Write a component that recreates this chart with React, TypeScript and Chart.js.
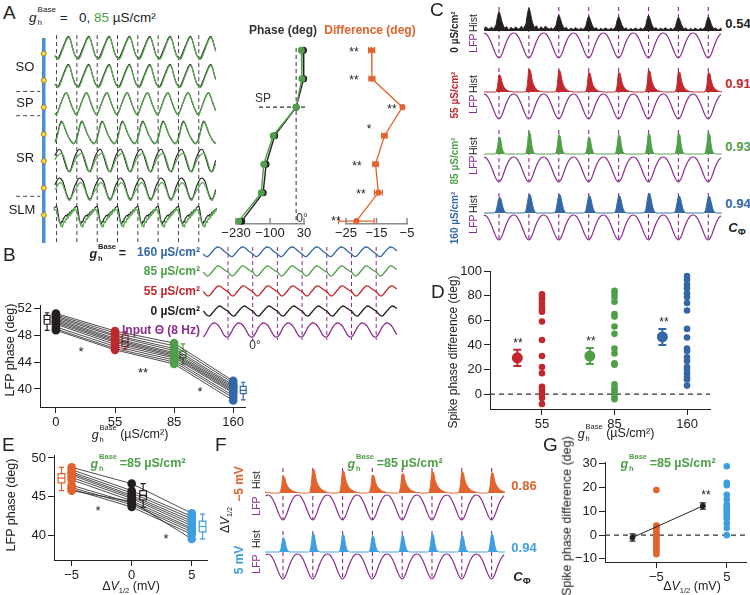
import React, { useEffect, useRef } from 'react';
import { Chart, registerables } from 'chart.js';

Chart.register(...registerables);

const FONT = "'Liberation Sans', Arial, Helvetica, sans-serif";
const C_BLACK = '#231f20';
const C_GREEN = '#4f9e48';
const C_GREEN_L = '#5aad52';
const C_RED = '#c1272d';
const C_BLUE = '#3467a6';
const C_ORANGE = '#e2632d';
const C_LBLUE = '#3d9ee0';
const C_PURPLE = '#8a2c8c';
const C_AXGRAY = '#8a8a8a';

// ---------------- Panel A data ----------------
const aLayerIdx = [0, 1, 2, 3, 4, 5, 6];
const aPhaseBlack = [28, 29, 0, -82, -115, -126, -208];
const aPhaseGreen = [20, 22, 0, -88, -124, -133, -220];
const aDiffMean = [-16.6, -16.5, -6.5, -12.4, -15.3, -14.4, -21.6];
const aDiffErr = [1.0, 1.0, 0.5, 0.9, 0.9, 1.3, 5.8];
const aDiffStars = ['**', '**', '**', '*', '**', '**', '**'];
const aPhaseTicks = [-230, -100, 30];
const aDiffTicks = [-25, -15, -5];
const aLayerLabels = ['SO', 'SP', 'SR', 'SLM'];
const aTraceBlack = [
  [0.08, 0.06, 0.2, 0.38, 0.56, 0.74, 0.9, 0.99, 0.88, 0.62, 0.36, 0.16],
  [0.08, 0.05, 0.2, 0.38, 0.57, 0.75, 0.91, 1.0, 0.87, 0.6, 0.35, 0.15],
  [0.05, 0.22, 0.42, 0.62, 0.8, 0.95, 0.98, 0.82, 0.6, 0.4, 0.22, 0.08],
  [0.25, 0.55, 0.85, 0.98, 0.85, 0.65, 0.45, 0.3, 0.18, 0.08, 0.02, 0.08],
  [0.85, 0.95, 0.97, 0.85, 0.62, 0.38, 0.15, 0.03, 0.05, 0.25, 0.5, 0.7],
  [0.8, 0.92, 0.95, 0.88, 0.75, 0.5, 0.25, 0.08, 0.05, 0.2, 0.45, 0.65],
  [0.95, 0.82, 0.6, 0.38, 0.24, 0.2, 0.3, 0.28, 0.42, 0.46, 0.52, 0.56, 0.52, 0.6, 0.58, 0.66, 0.7, 0.68, 0.76, 0.8, 0.78, 0.86, 0.9, 0.93],
];
const aTraceGreen = [
  [0.06, 0.0, 0.1, 0.28, 0.48, 0.67, 0.84, 0.93, 0.86, 0.62, 0.34, 0.14],
  [0.06, 0.0, 0.1, 0.3, 0.5, 0.68, 0.85, 0.94, 0.86, 0.6, 0.33, 0.13],
  [0.06, 0.2, 0.4, 0.6, 0.78, 0.92, 0.96, 0.83, 0.62, 0.42, 0.24, 0.1],
  [0.2, 0.48, 0.78, 0.92, 0.85, 0.68, 0.48, 0.3, 0.15, 0.05, 0.0, 0.06],
  [0.65, 0.72, 0.78, 0.8, 0.72, 0.5, 0.25, 0.05, 0.0, 0.15, 0.35, 0.52],
  [0.55, 0.68, 0.75, 0.72, 0.6, 0.4, 0.18, 0.02, 0.0, 0.15, 0.32, 0.45],
  [0.72, 0.6, 0.45, 0.3, 0.22, 0.1, 0.15, 0.05, 0.2, 0.3, 0.25, 0.42, 0.38, 0.5, 0.45, 0.6, 0.55, 0.7, 0.62, 0.8, 0.72, 0.85, 0.78, 0.8],
];

// ---------------- Panel B data ----------------
const bCats = ['0', '55', '85', '160'];
const bColors = [C_BLACK, C_RED, C_GREEN, C_BLUE];
const bSubjects = [
  [51.2, 48.6, 46.8, 41.2],
  [51.0, 48.3, 46.4, 40.9],
  [50.8, 48.0, 46.0, 40.6],
  [50.6, 47.8, 45.7, 40.4],
  [50.4, 47.5, 45.4, 40.2],
  [50.2, 47.3, 45.2, 40.0],
  [50.0, 47.1, 45.0, 39.8],
  [49.8, 46.9, 44.8, 39.6],
  [49.6, 46.6, 44.6, 39.4],
  [49.2, 46.3, 44.3, 39.0],
  [48.9, 46.0, 44.0, 38.7],
  [48.7, 45.8, 43.7, 38.3],
];
const bBoxes = [
  [48.7, 49.6, 50.3, 50.9, 51.3],
  [45.9, 46.3, 47.0, 48.0, 48.5],
  [43.7, 44.6, 45.1, 45.6, 46.7],
  [38.4, 39.3, 39.8, 40.4, 41.0],
];
const bBoxOffset = [-0.15, 0.17, 0.15, 0.17];
const bYTicks = [40, 44, 48, 52];
const bStars = ['*', '**', '*'];
const bLegend = ['160 µS/cm²', '85 µS/cm²', '55 µS/cm²', '0 µS/cm²', 'Input Θ (8 Hz)'];
const bTrace160 = [0.3, 0.1, 0.05, 0.2, 0.45, 0.7, 0.9, 1.0, 0.95, 0.8, 0.6, 0.45];
const bTrace85 = [0.4, 0.15, 0.0, 0.1, 0.35, 0.6, 0.85, 1.0, 0.95, 0.8, 0.65, 0.5];
const bTrace55 = [0.45, 0.2, 0.02, 0.05, 0.3, 0.55, 0.8, 0.98, 1.0, 0.85, 0.7, 0.55];
const bTrace0 = [0.5, 0.25, 0.05, 0.0, 0.2, 0.45, 0.7, 0.9, 1.0, 0.9, 0.75, 0.6];
const bTraceInput = [0.0, 0.18, 0.45, 0.72, 0.9, 1.0, 0.98, 0.88, 0.68, 0.42, 0.16, 0.02];

// ---------------- Panel C / F data ----------------
const lfpShape = [0, 0.12, 0.38, 0.65, 0.85, 0.97, 1.0, 0.95, 0.8, 0.58, 0.32, 0.1];
const histBlack = [0.12, 0.2, 0.1, 0.18, 0.3, 0.7, 0.95, 0.75, 0.45, 0.25, 0.15, 0.22, 0.1, 0.08, 0.18, 0.12, 0.1, 0.2, 0.15, 0.1];
const histRed = [0, 0, 0, 0, 0.02, 0.3, 0.95, 0.9, 0.55, 0.32, 0.2, 0.12, 0.07, 0.04, 0.02, 0.01, 0, 0, 0, 0];
const histGreen = [0, 0, 0, 0, 0.05, 0.4, 0.95, 0.85, 0.35, 0.1, 0.02, 0, 0, 0, 0, 0, 0, 0, 0, 0];
const histBlue = [0, 0, 0, 0.02, 0.12, 0.55, 0.95, 0.95, 0.6, 0.25, 0.07, 0.01, 0, 0, 0, 0, 0, 0, 0, 0];
const histOrange = [0, 0, 0, 0, 0.03, 0.35, 0.95, 0.92, 0.6, 0.4, 0.28, 0.2, 0.14, 0.1, 0.07, 0.04, 0.02, 0.01, 0, 0];
const histLBlue = [0, 0, 0, 0, 0.03, 0.4, 0.95, 0.85, 0.4, 0.12, 0.03, 0, 0, 0, 0, 0, 0, 0, 0, 0];
const peaksBlack = [0.85, 1.0, 0.7, 0.65, 0.62, 0.68, 0.6, 0.62];
const peaksRed = [0.75, 1.0, 0.95, 0.85, 0.85, 0.95, 0.9, 0.85];
const peaksGreen = [0.75, 0.98, 0.85, 0.75, 0.85, 0.92, 0.92, 0.95];
const peaksBlue = [0.8, 0.95, 0.95, 0.88, 0.88, 1.0, 0.88, 0.85];
const peaksOrange = [0.7, 1.0, 0.92, 0.75, 0.82, 0.9, 0.88, 0.85];
const peaksLBlue = [0.72, 0.95, 0.9, 0.82, 0.85, 0.92, 0.85, 0.92];
const cLabels = ['0 µS/cm²', '55 µS/cm²', '85 µS/cm²', '160 µS/cm²'];
const cCoherence = ['0.54', '0.91', '0.93', '0.94'];
const fCoherence = ['0.86', '0.94'];

// ---------------- Panel D data ----------------
const dCats = ['55', '85', '160'];
const dDots55 = [81, 79, 77, 74, 71, 69, 67, 59, 44, 31, 22, 17, 6, 4, 2, 0, -3, -8];
const dDots85 = [84, 82, 79, 75, 65, 63, 55, 49, 37, 33, 25, 24, 8, 5, 3, 1, -2, -4];
const dDots160 = [96, 93, 89, 86, 82, 79, 74, 68, 53, 46, 37, 35, 30, 27, 22, 20, 17, 14, 12, 7];
const dMean = [29.5, 31, 46.5];
const dErr = [6.5, 6.5, 6.5];
const dYTicks = [0, 20, 40, 60, 80, 100];

// ---------------- Panel E data ----------------
const eCats = [-5, 0, 5];
const eSubjects = [
  [48.8, 46.7, 42.9],
  [48.5, 45.8, 42.5],
  [48.2, 45.5, 42.2],
  [48.0, 45.2, 41.9],
  [47.8, 45.0, 41.6],
  [47.5, 44.8, 41.3],
  [47.2, 44.5, 41.0],
  [46.5, 44.2, 40.8],
  [46.2, 44.0, 40.5],
  [46.0, 43.7, 40.2],
  [45.8, 44.4, 39.6],
];
const eBoxes = [
  [45.8, 46.8, 47.4, 48.0, 48.8],
  [43.7, 44.6, 45.2, 45.8, 46.7],
  [39.6, 40.5, 41.2, 41.9, 42.8],
];
const eBoxOffset = [-0.85, 0.95, 0.9];
const eYTicks = [40, 45, 50];

// ---------------- Panel G data ----------------
const gCats = [-5, 5];
const gDotsNeg = [19, 4, 3.5, 3, 2, 1, 0, -1, -2, -3, -4, -5, -6, -7, -8];
const gDotsPos = [29, 22, 21, 17, 15, 13, 12, 11, 10, 9, 8, 7, 5, 3, 0];
const gMeanX = [-8.4, 1.6];
const gMean = [-1, 12.3];
const gErr = [1.5, 1.3];
const gYTicks = [-10, 0, 10, 20, 30];

// ---------------- helpers ----------------
const fmt = (v: number) => (v < 0 ? '\u2212' + Math.abs(v) : String(v));

function tilePts(shape: number[], t0: number, t1: number, off: number, toY: (v: number) => number, scales?: number[]) {
  const n = shape.length;
  const out: { x: number; y: number }[] = [];
  for (let c = Math.floor(t0) - 2; c <= Math.ceil(t1) + 1; c++) {
    const s = scales ? scales[Math.max(0, Math.min(scales.length - 1, c))] : 1;
    for (let i = 0; i < n; i++) {
      const t = c + off + i / n;
      if (t >= t0 && t <= t1) out.push({ x: t, y: toY(shape[i] * s) });
    }
  }
  return out;
}

function vLines(ts: number[], y0: number, y1: number) {
  const out: any[] = [];
  ts.forEach((t) => {
    out.push({ x: t, y: y0 }, { x: t, y: y1 }, { x: t, y: null });
  });
  return out;
}

function boxPath(cx: number, hw: number, s: number[]) {
  const [lo, q1, med, q3, hi] = s;
  const ch = hw * 0.8;
  const g = () => ({ x: cx, y: null });
  return [
    { x: cx - hw, y: q1 }, { x: cx + hw, y: q1 }, { x: cx + hw, y: q3 }, { x: cx - hw, y: q3 }, { x: cx - hw, y: q1 }, g(),
    { x: cx - hw, y: med }, { x: cx + hw, y: med }, g(),
    { x: cx, y: q3 }, { x: cx, y: hi }, g(),
    { x: cx - ch, y: hi }, { x: cx + ch, y: hi }, g(),
    { x: cx, y: q1 }, { x: cx, y: lo }, g(),
    { x: cx - ch, y: lo }, { x: cx + ch, y: lo },
  ];
}

function vErr(cx: number, y: number, e: number, ch: number) {
  return [
    { x: cx, y: y - e }, { x: cx, y: y + e }, { x: cx, y: null },
    { x: cx - ch, y: y + e }, { x: cx + ch, y: y + e }, { x: cx, y: null },
    { x: cx - ch, y: y - e }, { x: cx + ch, y: y - e },
  ];
}

function hErr(cx: number, y: number, e: number, ch: number) {
  return [
    { x: cx - e, y }, { x: cx + e, y }, { x: null, y: null },
    { x: cx - e, y: y - ch }, { x: cx - e, y: y + ch }, { x: null, y: null },
    { x: cx + e, y: y - ch }, { x: cx + e, y: y + ch },
  ];
}

function L(data: any[], color: string, width = 1, extra: any = {}) {
  return { type: 'line', data, borderColor: color, backgroundColor: color, borderWidth: width, pointRadius: 0, pointHoverRadius: 0, fill: false, tension: 0, clip: false, spanGaps: false, ...extra };
}
function P(data: any[], color: string, r: number, extra: any = {}) {
  return { type: 'line', data, showLine: false, borderColor: color, backgroundColor: color, pointBackgroundColor: color, pointBorderColor: color, pointBorderWidth: 0, pointRadius: r, pointHoverRadius: r, clip: false, ...extra };
}

interface AxisSpec {
  min: number; max: number; show?: boolean; ticks?: number[]; labels?: string[]; reverse?: boolean;
  color?: string; tickLen?: number; pad?: number; size?: number; lineWidth?: number;
}

function scaleOpt(axis: 'x' | 'y', a: AxisSpec, fit: number) {
  const show = !!a.show;
  const tl = a.tickLen ?? 6;
  return {
    type: 'linear',
    display: show,
    min: a.min,
    max: a.max,
    reverse: !!a.reverse,
    afterFit: (s: any) => { if (axis === 'x') s.height = fit; else s.width = fit; },
    afterBuildTicks: (s: any) => { if (a.ticks) s.ticks = a.ticks.map((v) => ({ value: v })); },
    ticks: {
      autoSkip: false, maxRotation: 0, minRotation: 0, padding: a.pad ?? 2, color: '#222',
      font: { family: FONT, size: a.size ?? 13 },
      callback: (v: number) => {
        if (a.labels && a.ticks) { const i = a.ticks.indexOf(v); if (i >= 0) return a.labels[i]; }
        return fmt(v);
      },
    },
    grid: { display: show, drawOnChartArea: false, drawTicks: tl > 0, tickLength: tl, color: a.color ?? '#222', lineWidth: 1 },
    border: { display: show, color: a.color ?? '#222', width: a.lineWidth ?? 1 },
  };
}

const innerTicks = {
  id: 'innerTicks',
  afterDraw(chart: any, _args: any, opts: any) {
    if (!opts || !opts.len) return;
    const s = chart.scales.x;
    const ctx = chart.ctx;
    ctx.save();
    ctx.strokeStyle = opts.color;
    ctx.lineWidth = 1.5;
    s.ticks.forEach((tk: any) => {
      const p = s.getPixelForValue(tk.value);
      ctx.beginPath();
      ctx.moveTo(p, s.top);
      ctx.lineTo(p, s.top - opts.len);
      ctx.stroke();
    });
    ctx.restore();
  },
};

function cfg(o: { padL?: number; padR?: number; padT?: number; padB?: number; x: AxisSpec; y: AxisSpec; datasets: any[]; inner?: { len: number; color: string } }) {
  const padL = o.padL ?? 0, padR = o.padR ?? 0, padT = o.padT ?? 0, padB = o.padB ?? 0;
  return {
    type: 'line',
    data: { datasets: o.datasets },
    options: {
      responsive: false,
      maintainAspectRatio: false,
      animation: false,
      devicePixelRatio: 1,
      events: [],
      layout: { padding: { left: o.y.show ? 0 : padL, right: padR, top: padT, bottom: o.x.show ? 0 : padB } },
      plugins: { legend: { display: false }, tooltip: { enabled: false }, title: { display: false }, innerTicks: o.inner ?? { len: 0 } },
      scales: { x: scaleOpt('x', o.x, padB), y: scaleOpt('y', o.y, padL) },
    },
    plugins: [innerTicks],
  };
}

function ChartCanvas({ left, top, width, height, make }: { left: number; top: number; width: number; height: number; make: () => any }) {
  const ref = useRef<HTMLCanvasElement | null>(null);
  useEffect(() => {
    const chart = new Chart(ref.current as HTMLCanvasElement, make());
    return () => chart.destroy();
  }, []);
  return <canvas ref={ref} width={width} height={height} style={{ position: 'absolute', left, top, width, height }} />;
}

// ---------------- chart builders ----------------
function makeATraces() {
  const tA = (px: number) => (px - 54.7) / 20.95;
  const t0 = tA(52), t1 = tA(220);
  const rowY = (k: number) => (v: number) => 5 + 29 * k + (1 - v) * 24;
  const ds: any[] = [];
  aTraceGreen.forEach((shape, k) => ds.push(L(tilePts(shape, t0, t1, 0, rowY(k)), C_GREEN_L, 1.2, { tension: 0.35, order: 1 })));
  aTraceBlack.forEach((shape, k) => ds.push(L(tilePts(shape, t0, t1, 0, rowY(k)), C_BLACK, 1.1, { tension: 0.35, order: 2 })));
  ds.push(L(vLines([0, 1, 2, 3, 4, 5, 6, 7], 4, 218), '#444', 1, { borderDash: [4, 3], order: 5 }));
  const bx = tA(41.5);
  ds.push(L([{ x: bx, y: 7 }, { x: bx, y: 218 }], '#4a90d9', 3.5, { order: 4 }));
  ds.push(P(aLayerIdx.map((k) => ({ x: bx, y: 23 + 27.7 * k })), '#f3d43a', 2.6, { pointBorderColor: '#6b5c1c', pointBorderWidth: 0.6, order: 0 }));
  const d0 = tA(13), d1 = tA(38);
  const seg: any[] = [];
  [62, 87, 170].forEach((y) => seg.push({ x: d0, y }, { x: d1, y }, { x: d0, y: null }));
  ds.push(L(seg, '#444', 1, { borderDash: [4, 3], order: 5 }));
  return cfg({ x: { min: tA(10), max: tA(222) }, y: { min: 0, max: 222, reverse: true }, datasets: ds });
}

function makePhase() {
  return cfg({
    padL: 18, padR: 10, padT: 10, padB: 20,
    x: { min: -230, max: 30, show: true, ticks: aPhaseTicks, color: C_AXGRAY, tickLen: 0, lineWidth: 1.5 },
    y: { min: -0.5, max: 6.1, reverse: true },
    inner: { len: 6, color: C_AXGRAY },
    datasets: [
      L(aLayerIdx.map((k) => ({ x: aPhaseBlack[k], y: k })), C_BLACK, 1.4, { pointRadius: 2.8, pointBackgroundColor: C_BLACK, order: 2 }),
      L(aLayerIdx.map((k) => ({ x: aPhaseGreen[k], y: k })), C_GREEN, 1.4, { pointRadius: 2.8, pointBackgroundColor: C_GREEN, order: 1 }),
      L([{ x: 0, y: -0.08 }, { x: 0, y: 6.1 }], '#555', 1.2, { borderDash: [4, 3], order: 3 }),
      L([{ x: -142, y: 2 }, { x: 36, y: 2 }], '#333', 1.2, { borderDash: [4, 3], order: 3 }),
    ],
  });
}

function makeDiff() {
  const ds: any[] = [];
  ds.push(L(aLayerIdx.map((k) => ({ x: aDiffMean[k], y: k })), C_ORANGE, 1.3, { pointRadius: 2.4, pointBackgroundColor: C_ORANGE }));
  aLayerIdx.forEach((k) => ds.push(L(hErr(aDiffMean[k], k, aDiffErr[k], 0.11), C_ORANGE, 1.2)));
  return cfg({
    padL: 14, padR: 13, padT: 10, padB: 20,
    x: { min: -25, max: -5, show: true, ticks: aDiffTicks, color: C_AXGRAY, tickLen: 0, lineWidth: 1.5 },
    y: { min: -0.5, max: 6.1, reverse: true },
    inner: { len: 6, color: C_AXGRAY },
    datasets: ds,
  });
}

function makeBTraces() {
  const tB = (px: number) => (px - 228) / 24.7;
  const t0 = tB(203), t1 = tB(398);
  const rows = [
    { s: bTrace160, c: C_BLUE, cy: 12, h: 10 },
    { s: bTrace85, c: C_GREEN, cy: 31, h: 10 },
    { s: bTrace55, c: C_RED, cy: 51, h: 10 },
    { s: bTrace0, c: C_BLACK, cy: 71, h: 10 },
    { s: bTraceInput, c: C_PURPLE, cy: 90, h: 14 },
  ];
  const ds: any[] = rows.map((r) => L(tilePts(r.s, t0, t1, 0, (v) => r.cy + r.h / 2 - v * r.h), r.c, 1.3, { tension: 0.4, order: 1 }));
  ds.push(L(vLines([0, 1, 2, 3, 4, 5, 6], 7, 100), C_PURPLE, 1, { borderDash: [4, 3], order: 3 }));
  return cfg({ x: { min: tB(200), max: tB(400) }, y: { min: 0, max: 110, reverse: true }, datasets: ds });
}

function histChart(opts: {
  left: number; top: number; w: number; h: number; t0px: number; per: number; startPx: number; endPx: number;
  rows: { hist: number[]; peaks: number[]; color: string; base: number; hh: number; lfpTop: number }[];
}) {
  const tt = (px: number) => (px - opts.t0px) / opts.per;
  const t0 = tt(opts.startPx), t1 = tt(opts.endPx);
  const ds: any[] = [];
  const cycles: number[] = [];
  for (let c = Math.ceil(t0); c <= Math.floor(t1); c++) cycles.push(c);
  opts.rows.forEach((r) => {
    const base = r.base - opts.top;
    const lfpTop = r.lfpTop - opts.top;
    ds.push(L(tilePts(r.hist, t0, t1, -0.3, (v) => base - v * r.hh, r.peaks), r.color, 1, { tension: 0.25, fill: { value: base }, backgroundColor: r.color, order: 1 }));
    ds.push(L(tilePts(lfpShape, t0, t1, 0, (v) => lfpTop + 25 - v * 25), C_PURPLE, 1.2, { tension: 0.4, order: 2 }));
    ds.push(L(vLines(cycles, base - r.hh, lfpTop + 25), C_PURPLE, 1.1, { borderDash: [4, 3], order: 4 }));
  });
  return cfg({ x: { min: tt(opts.left), max: tt(opts.left + opts.w) }, y: { min: 0, max: opts.h, reverse: true }, datasets: ds });
}

function makeC() {
  return histChart({
    left: 480, top: 2, w: 245, h: 243, t0px: 499, per: 29.9, startPx: 483, endPx: 722,
    rows: [
      { hist: histBlack, peaks: peaksBlack, color: C_BLACK, base: 31, hh: 24, lfpTop: 33 },
      { hist: histRed, peaks: peaksRed, color: C_RED, base: 92, hh: 24, lfpTop: 94 },
      { hist: histGreen, peaks: peaksGreen, color: C_GREEN, base: 154, hh: 24, lfpTop: 157 },
      { hist: histBlue, peaks: peaksBlue, color: C_BLUE, base: 213, hh: 20, lfpTop: 215 },
    ],
  });
}

function makeF() {
  return histChart({
    left: 262, top: 462, w: 246, h: 122, t0px: 283, per: 29.8, startPx: 265, endPx: 506,
    rows: [
      { hist: histOrange, peaks: peaksOrange, color: C_ORANGE, base: 493, hh: 25, lfpTop: 495 },
      { hist: histLBlue, peaks: peaksLBlue, color: C_LBLUE, base: 552, hh: 21, lfpTop: 554 },
    ],
  });
}

function makeB() {
  const ds: any[] = [];
  bCats.forEach((_, i) => ds.push(P(bSubjects.map((s) => ({ x: i, y: s[i] })), bColors[i], 4.3, { order: 1 })));
  bSubjects.forEach((s) => ds.push(L(s.map((v, i) => ({ x: i, y: v })), C_BLACK, 0.8, { order: 2 })));
  bBoxes.forEach((b, i) => ds.push(L(boxPath(i + bBoxOffset[i], 0.05, b), bColors[i], 1.2, { order: 3 })));
  return cfg({
    padL: 30, padR: 15, padT: 10, padB: 30,
    x: { min: -0.27, max: 3.2, show: true, ticks: [0, 1, 2, 3], labels: bCats },
    y: { min: 37.33, max: 52.45, show: true, ticks: bYTicks },
    datasets: ds,
  });
}

function makeD() {
  const ds: any[] = [];
  const cols = [C_RED, C_GREEN, C_BLUE];
  const dots = [dDots55, dDots85, dDots160];
  ds.push(L([{ x: -0.717, y: 0 }, { x: 2.317, y: 0 }], '#333', 1.2, { borderDash: [5, 4], order: 5 }));
  dots.forEach((arr, i) => ds.push(P(arr.map((v) => ({ x: i, y: v })), cols[i], 3.3, { order: 1 })));
  dMean.forEach((m, i) => {
    const mx = i - 0.34;
    ds.push(P([{ x: mx, y: m }], cols[i], 5.5, { order: 0 }));
    ds.push(L(vErr(mx, m, dErr[i], 0.055), cols[i], 2, { order: 1 }));
  });
  return cfg({
    padL: 35, padR: 10, padT: 10, padB: 30,
    x: { min: -0.717, max: 2.317, show: true, ticks: [0, 1, 2], labels: dCats },
    y: { min: -12, max: 100, show: true, ticks: dYTicks },
    datasets: ds,
  });
}

function makeE() {
  const ds: any[] = [];
  const cols = [C_ORANGE, C_BLACK, C_LBLUE];
  eCats.forEach((c, i) => ds.push(P(eSubjects.map((s) => ({ x: c, y: s[i] })), cols[i], 4.3, { order: 1 })));
  eSubjects.forEach((s) => ds.push(L(s.map((v, i) => ({ x: eCats[i], y: v })), C_BLACK, 0.8, { order: 2 })));
  eBoxes.forEach((b, i) => ds.push(L(boxPath(eCats[i] + eBoxOffset[i], 0.28, b), cols[i], 1.2, { order: 3 })));
  return cfg({
    padL: 32, padR: 10, padT: 10, padB: 30,
    x: { min: -6.47, max: 6.27, show: true, ticks: eCats },
    y: { min: 36.9, max: 50.38, show: true, ticks: eYTicks },
    datasets: ds,
  });
}

function makeG() {
  const ds: any[] = [];
  ds.push(L([{ x: -12.3, y: 0 }, { x: 7.8, y: 0 }], '#333', 1.2, { borderDash: [5, 4], order: 5 }));
  ds.push(P(gDotsNeg.map((v) => ({ x: gCats[0], y: v })), C_ORANGE, 3.3, { order: 2 }));
  ds.push(P(gDotsPos.map((v) => ({ x: gCats[1], y: v })), C_LBLUE, 3.3, { order: 2 }));
  ds.push(L(gMeanX.map((x, i) => ({ x, y: gMean[i] })), C_BLACK, 1, { pointRadius: 2.5, pointBackgroundColor: C_BLACK, order: 1 }));
  gMeanX.forEach((x, i) => ds.push(L(vErr(x, gMean[i], gErr[i], 0.42), C_BLACK, 1.3, { order: 1 })));
  return cfg({
    padL: 32, padR: 2, padT: 10, padB: 30,
    x: { min: -12.3, max: 7.8, show: true, ticks: gCats },
    y: { min: -11.3, max: 30.8, show: true, ticks: gYTicks },
    datasets: ds,
  });
}

// ---------------- text helpers ----------------
function T({ x, y, children, size = 13, bold, italic, color = '#222', rot, align = 'center' }: {
  x: number; y: number; children: React.ReactNode; size?: number; bold?: boolean; italic?: boolean; color?: string; rot?: boolean; align?: 'center' | 'left' | 'right';
}) {
  const tx = align === 'center' ? '-50%' : align === 'right' ? '-100%' : '0';
  return (
    <div style={{
      position: 'absolute', left: x, top: y, transform: `translate(${tx}, -50%)${rot ? ' rotate(-90deg)' : ''}`,
      fontSize: size, fontWeight: bold ? 700 : 400, fontStyle: italic ? 'italic' : 'normal', color,
      whiteSpace: 'nowrap', lineHeight: 1, fontFamily: FONT,
    }}>{children}</div>
  );
}

function GH({ size }: { size: number }) {
  return (
    <span style={{ whiteSpace: 'nowrap' }}>
      <i>g</i>
      <span style={{ display: 'inline-block', position: 'relative', width: size * 1.45, height: size, verticalAlign: 'baseline' }}>
        <span style={{ position: 'absolute', left: 1, top: -size * 0.17, fontSize: size * 0.6, lineHeight: 1, fontStyle: 'normal' }}>Base</span>
        <span style={{ position: 'absolute', left: 1, top: size * 0.79, fontSize: size * 0.6, lineHeight: 1, fontStyle: 'normal' }}>h</span>
      </span>
    </span>
  );
}

function DV() {
  return (
    <span>Δ<i>V</i><sub style={{ fontSize: '0.6em', verticalAlign: '-0.35em' }}>1/2</sub></span>
  );
}

function CPhi({ size }: { size: number }) {
  return (
    <span style={{ fontWeight: 700 }}><i>C</i><sub style={{ fontSize: size * 0.75, verticalAlign: '-0.25em', fontStyle: 'normal' }}>Φ</sub></span>
  );
}

const Letter = ({ x, y, ch }: { x: number; y: number; ch: string }) => <T x={x} y={y} size={19} align="left">{ch}</T>;

export default function App() {
  const cCols = [C_BLACK, C_RED, C_GREEN, C_BLUE];
  const cHistY = [23, 84, 146, 204];
  const cLfpY = [43, 104, 165, 224];
  const cValY = [23, 83, 146, 203];
  const cGroupY = [32, 95, 161, 218];
  const diffStarPos = [[354, 52], [354, 80], [392, 109], [369, 129], [357, 166], [361, 194], [336, 221]];
  const bLegCols = [C_BLUE, C_GREEN, C_RED, C_BLACK, C_PURPLE];
  const bLegY = [252, 271, 291, 311, 330];
  const bStarPos = [[81, 351], [143, 372], [200, 391]];
  const layerPos = [[25, 66], [25, 102], [25, 157], [22, 209]];
  return (
    <div style={{ position: 'absolute', left: 0, top: 0, width: 750, height: 595, background: '#fff', overflow: 'hidden', fontFamily: FONT, color: '#222' }}>
      <ChartCanvas left={10} top={28} width={212} height={222} make={makeATraces} />
      <ChartCanvas left={200} top={26} width={114} height={218} make={makePhase} />
      <ChartCanvas left={318} top={26} width={102} height={218} make={makeDiff} />
      <ChartCanvas left={480} top={2} width={245} height={243} make={makeC} />
      <ChartCanvas left={200} top={240} width={200} height={110} make={makeBTraces} />
      <ChartCanvas left={10} top={295} width={250} height={142} make={makeB} />
      <ChartCanvas left={455} top={261} width={265} height={178} make={makeD} />
      <ChartCanvas left={22} top={445} width={195} height={145} make={makeE} />
      <ChartCanvas left={262} top={462} width={246} height={122} make={makeF} />
      <ChartCanvas left={573} top={452} width={177} height={140} make={makeG} />

      {/* Panel A */}
      <Letter x={3} y={12} ch="A" />
      <T x={29} y={16} size={13.5} align="left"><GH size={13.5} /> =&nbsp;&nbsp; 0, <span style={{ color: C_GREEN }}>85</span> µS/cm²</T>
      {aLayerLabels.map((s, i) => <T key={s} x={layerPos[i][0]} y={layerPos[i][1]} size={13}>{s}</T>)}
      <T x={283} y={30} size={12} bold color="#333">Phase (deg)</T>
      <T x={370} y={30} size={12} bold color={C_ORANGE}>Difference (deg)</T>
      <T x={263} y={98} size={12} color="#333">SP</T>
      <T x={302} y={218} size={12} color="#333">0°</T>
      {aDiffStars.map((s, i) => <T key={'ds' + i} x={diffStarPos[i][0]} y={diffStarPos[i][1]} size={12}>{s}</T>)}

      {/* Panel C */}
      <Letter x={430} y={9} ch="C" />
      {cLabels.map((s, i) => <T key={'cl' + i} x={455} y={cGroupY[i]} size={10} bold rot color={cCols[i]}>{s}</T>)}
      {cHistY.map((y, i) => <T key={'ch' + i} x={473} y={y} size={10.5} rot>Hist</T>)}
      {cLfpY.map((y, i) => <T key={'cf' + i} x={473} y={y} size={10.5} rot color={C_PURPLE}>LFP</T>)}
      {cCoherence.map((s, i) => <T key={'cv' + i} x={738} y={cValY[i]} size={13} bold color={cCols[i]}>{s}</T>)}
      <T x={737} y={229} size={13}><CPhi size={13} /></T>

      {/* Panel B */}
      <Letter x={3} y={254} ch="B" />
      <T x={126} y={252} size={12.5} bold align="right"><GH size={12.5} /> =</T>
      {bLegend.map((s, i) => <T key={'bl' + i} x={200} y={bLegY[i]} size={12} bold align="right" color={bLegCols[i]}>{s}</T>)}
      <T x={255} y={345} size={12} color="#333">0°</T>
      <T x={10} y={350} size={12.5} rot>LFP phase (deg)</T>
      {bStars.map((s, i) => <T key={'bs' + i} x={bStarPos[i][0]} y={bStarPos[i][1]} size={13}>{s}</T>)}
      <T x={130} y={433} size={12.5}><GH size={12.5} /> (µS/cm²)</T>

      {/* Panel D */}
      <Letter x={431} y={291} ch="D" />
      <T x={453} y={352} size={12} rot>Spike phase difference (deg)</T>
      <T x={518} y={343} size={12}>**</T>
      <T x={591} y={341} size={12}>**</T>
      <T x={664} y={322} size={12}>**</T>
      <T x={616} y={432} size={12.5}><GH size={12.5} /> (µS/cm²)</T>

      {/* Panel E */}
      <Letter x={2} y={444} ch="E" />
      <T x={138} y={462} size={12.5} bold color={C_GREEN}><GH size={12.5} /> =85 µS/cm²</T>
      <T x={11} y={505} size={12.5} rot>LFP phase (deg)</T>
      <T x={98} y={510} size={13}>*</T>
      <T x={166} y={538} size={13}>*</T>
      <T x={131} y={587} size={12.5}><DV /> (mV)</T>

      {/* Panel F */}
      <Letter x={215} y={444} ch="F" />
      <T x={395} y={462} size={12.5} bold color={C_GREEN}><GH size={12.5} /> =85 µS/cm²</T>
      <T x={226} y={520} size={12} rot><DV /></T>
      <T x={239} y={484} size={12} bold rot color={C_ORANGE}>−5 mV</T>
      <T x={239} y={560} size={12} bold rot color={C_LBLUE}>5 mV</T>
      <T x={256} y={480} size={10.5} rot>Hist</T>
      <T x={256} y={506} size={10.5} rot color={C_PURPLE}>LFP</T>
      <T x={256} y={539} size={10.5} rot>Hist</T>
      <T x={256} y={564} size={10.5} rot color={C_PURPLE}>LFP</T>
      <T x={524} y={485} size={13} bold color={C_ORANGE}>{fCoherence[0]}</T>
      <T x={524} y={547} size={13} bold color={C_LBLUE}>{fCoherence[1]}</T>
      <T x={522} y={578} size={13}><CPhi size={13} /></T>

      {/* Panel G */}
      <Letter x={543} y={444} ch="G" />
      <T x={567} y={516} size={12.5} rot>Spike phase difference (deg)</T>
      <T x={668} y={462} size={12.5} bold color={C_GREEN}><GH size={12.5} /> =85 µS/cm²</T>
      <T x={706} y={495} size={12}>**</T>
      <T x={692} y={587} size={12.5}><DV /> (mV)</T>
    </div>
  );
}
